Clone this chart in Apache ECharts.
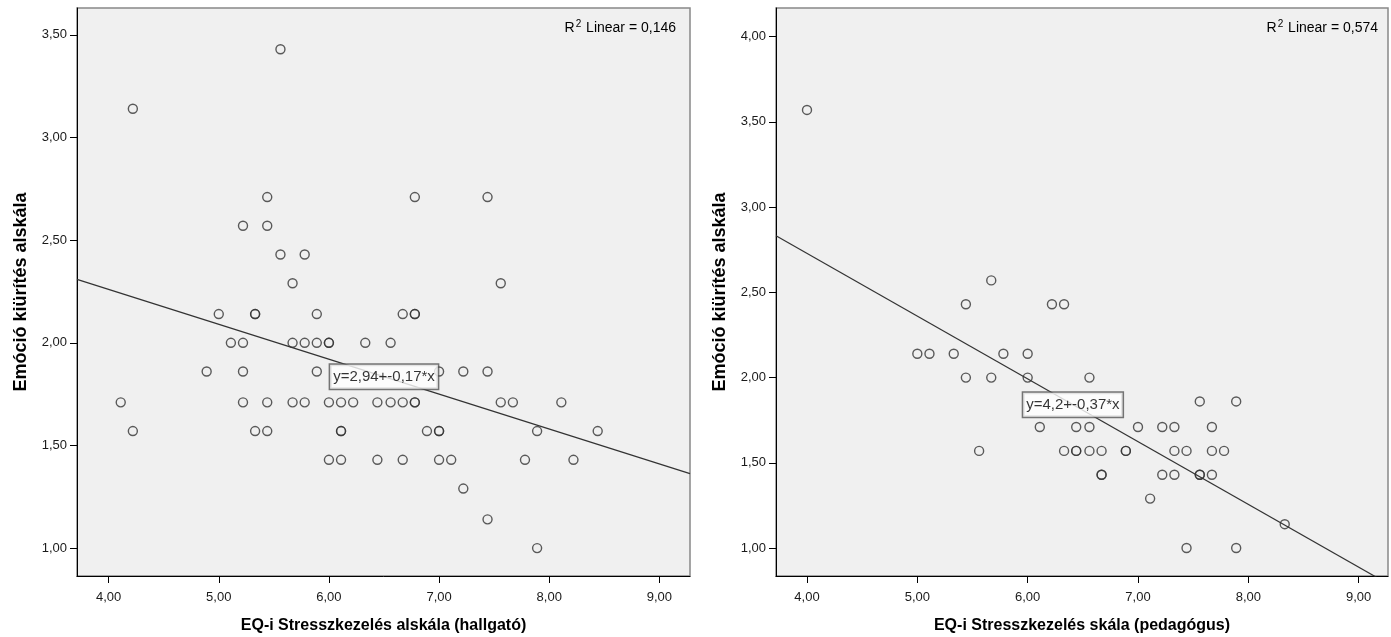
<!DOCTYPE html>
<html>
<head>
<meta charset="utf-8">
<script src="https://cdn.jsdelivr.net/npm/echarts@6/dist/echarts.min.js"></script>
<style>
html,body{margin:0;padding:0;background:#fff;}
#c{width:1391px;height:637px;}
</style>
</head>
<body>
<div id="c"></div>
<script>
// ---- Left chart: hallgató ----
const leftX = [4.22,5.56,5.44,6.78,7.44,5.22,5.44,5.56,5.78,5.67,7.56,
  5.00,5.33,5.33,5.89,6.67,6.78,6.78,
  5.11,5.22,5.67,5.78,5.89,6.00,6.00,6.33,6.56,
  4.89,5.22,5.89,7.00,7.22,7.44,
  4.11,5.22,5.44,5.67,5.78,6.00,6.11,6.22,6.44,6.56,6.67,6.78,6.78,7.56,7.67,8.11,
  4.22,5.33,5.44,6.11,6.11,6.89,7.00,7.00,7.89,8.44,
  6.00,6.11,6.44,6.67,7.00,7.11,7.78,8.22,
  7.22,7.44,7.89];
const leftY = [3.14,3.43,2.71,2.71,2.71,2.57,2.57,2.43,2.43,2.29,2.29,
  2.14,2.14,2.14,2.14,2.14,2.14,2.14,
  2.00,2.00,2.00,2.00,2.00,2.00,2.00,2.00,2.00,
  1.86,1.86,1.86,1.86,1.86,1.86,
  1.71,1.71,1.71,1.71,1.71,1.71,1.71,1.71,1.71,1.71,1.71,1.71,1.71,1.71,1.71,1.71,
  1.57,1.57,1.57,1.57,1.57,1.57,1.57,1.57,1.57,1.57,
  1.43,1.43,1.43,1.43,1.43,1.43,1.43,1.43,
  1.29,1.14,1.00];
const leftFit = [2.94, -0.17];      // intercept, slope
const leftFitLabelX = [6.5];
const leftR2 = ['0,146'];
const leftXRange = [3.713, 9.278];
const leftYRange = [0.864, 3.631];
const leftYTicks = [1.0,1.5,2.0,2.5,3.0,3.5];

// ---- Right chart: pedagógus ----
const rightX = [4.00,5.67,5.44,6.22,6.33,
  5.00,5.11,5.33,5.78,6.00,
  5.44,5.67,6.00,6.56,
  7.56,7.89,
  6.11,6.44,6.56,7.00,7.22,7.33,7.67,
  5.56,6.33,6.44,6.44,6.56,6.67,6.89,6.89,7.33,7.44,7.67,7.78,
  6.67,6.67,7.22,7.33,7.56,7.56,7.67,
  7.11,8.33,7.44,7.89];
const rightY = [3.57,2.57,2.43,2.43,2.43,
  2.14,2.14,2.14,2.14,2.14,
  2.00,2.00,2.00,2.00,
  1.86,1.86,
  1.71,1.71,1.71,1.71,1.71,1.71,1.71,
  1.57,1.57,1.57,1.57,1.57,1.57,1.57,1.57,1.57,1.57,1.57,1.57,
  1.43,1.43,1.43,1.43,1.43,1.43,1.43,
  1.29,1.14,1.00,1.00];
const rightFit = [4.2, -0.368];
const rightFitLabelX = [6.41];
const rightR2 = ['0,574'];
const rightXRange = [3.719, 9.266];
const rightYRange = [0.836, 4.168];
const rightYTicks = [1.0,1.5,2.0,2.5,3.0,3.5,4.0];

const xTicks = [4,5,6,7,8,9];
const xNames = ['EQ-i Stresszkezelés alskála (hallgató)', 'EQ-i Stresszkezelés skála (pedagógus)'];
const yName = 'Emóció kiürítés alskála';
const fitLabels = ['y=2,94+-0,17*x', 'y=4,2+-0,37*x'];

const FONT = '"Liberation Sans", Arial, sans-serif';
const fmt = v => v.toFixed(2).replace('.', ',');
const zip = (a, b) => a.map((v, i) => [v, b[i]]);

function xAxis(idx, range, name) {
  return {
    type: 'value', gridIndex: idx, min: range[0], max: range[1],
    name: name, nameLocation: 'middle', nameGap: 42,
    nameTextStyle: {fontFamily: FONT, fontSize: 16, fontWeight: 'bold', color: '#000'},
    axisLine: {onZero: false, lineStyle: {color: '#000', width: 1}},
    axisTick: {show: true, length: 7, customValues: xTicks, lineStyle: {color: '#000'}},
    axisLabel: {customValues: xTicks, formatter: fmt, margin: 15,
      fontFamily: FONT, fontSize: 13, color: '#1a1a1a'},
    splitLine: {show: false}
  };
}
function yAxis(idx, range, ticks) {
  return {
    type: 'value', gridIndex: idx, min: range[0], max: range[1],
    name: yName, nameLocation: 'middle', nameGap: 47, nameRotate: 90,
    nameTextStyle: {fontFamily: FONT, fontSize: 18, fontWeight: 'bold', color: '#000'},
    axisLine: {onZero: false, lineStyle: {color: '#000', width: 1}},
    axisTick: {show: true, length: 7, customValues: ticks, lineStyle: {color: '#000'}},
    axisLabel: {customValues: ticks, formatter: fmt, margin: 10,
      fontFamily: FONT, fontSize: 13, color: '#1a1a1a'},
    splitLine: {show: false}
  };
}
function pointsSeries(idx, xs, ys) {
  return {
    type: 'scatter', xAxisIndex: idx, yAxisIndex: idx, data: zip(xs, ys),
    symbol: 'circle', symbolSize: 9, silent: true,
    itemStyle: {color: 'rgba(0,0,0,0)', borderColor: '#333', borderWidth: 1.4},
    emphasis: {disabled: true}, z: 3
  };
}
function fitSeries(idx, fit, range) {
  const xs = [range[0], range[1]];
  return {
    type: 'line', xAxisIndex: idx, yAxisIndex: idx, silent: true,
    data: xs.map(x => [x, fit[0] + fit[1] * x]),
    showSymbol: false, symbol: 'none', clip: true,
    lineStyle: {color: '#333', width: 1.2}, z: 2
  };
}
function fitLabelSeries(idx, fit, lx, text) {
  return {
    type: 'scatter', xAxisIndex: idx, yAxisIndex: idx, silent: true,
    data: [[lx[0], fit[0] + fit[1] * lx[0]]],
    symbol: 'rect', symbolSize: 1, itemStyle: {color: 'rgba(0,0,0,0)'},
    label: {show: true, position: 'inside', formatter: text,
      fontFamily: FONT, fontSize: 15, color: '#000',
      backgroundColor: '#fff', borderColor: '#555', borderWidth: 1.5,
      padding: [3, 3, 2, 3], lineHeight: 19},
    z: 10
  };
}
function r2Title(right, val) {
  return {
    right: right, top: 19, padding: 0,
    text: '{r|R}{s|2}{r| Linear = ' + val + '}',
    textStyle: {fontWeight: 'normal', rich: {
      r: {fontFamily: FONT, fontSize: 14, fontWeight: 'normal', color: '#000', lineHeight: 16, verticalAlign: 'bottom'},
      s: {fontFamily: FONT, fontSize: 10, fontWeight: 'normal', color: '#000', lineHeight: 16, verticalAlign: 'top', padding: [0, 1, 8, 1]}
    }}
  };
}

const chart = echarts.init(document.getElementById('c'), null, {renderer: 'canvas'});
chart.setOption({
  animation: false,
  backgroundColor: '#fff',
  title: [r2Title(1391 - 676, leftR2[0]), r2Title(1391 - 1378, rightR2[0])],
  grid: [
    {left: 77, top: 8, width: 613, height: 568, outerBoundsMode: 'none', containLabel: false, show: true, backgroundColor: '#f0f0f0', borderColor: '#888', borderWidth: 1.5},
    {left: 776, top: 8, width: 612, height: 568, outerBoundsMode: 'none', containLabel: false, show: true, backgroundColor: '#f0f0f0', borderColor: '#888', borderWidth: 1.5}
  ],
  xAxis: [xAxis(0, leftXRange, xNames[0]), xAxis(1, rightXRange, xNames[1])],
  yAxis: [yAxis(0, leftYRange, leftYTicks), yAxis(1, rightYRange, rightYTicks)],
  series: [
    fitSeries(0, leftFit, leftXRange),
    pointsSeries(0, leftX, leftY),
    fitLabelSeries(0, leftFit, leftFitLabelX, fitLabels[0]),
    fitSeries(1, rightFit, rightXRange),
    pointsSeries(1, rightX, rightY),
    fitLabelSeries(1, rightFit, rightFitLabelX, fitLabels[1])
  ]
});
</script>
</body>
</html>
